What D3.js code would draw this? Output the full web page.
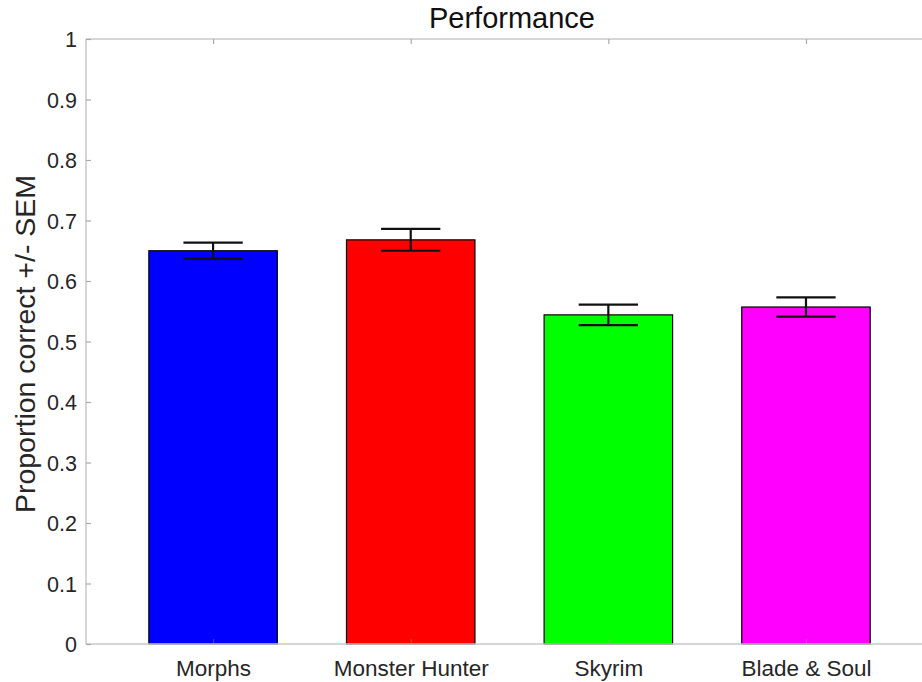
<!DOCTYPE html>
<html><head><meta charset="utf-8">
<script src="https://cdn.jsdelivr.net/npm/d3@7"></script>
<style>body{margin:0;background:#fff}svg{display:block}</style>
</head><body>
<svg id="c" width="922" height="682"></svg>
<script>
const categories = ["Morphs", "Monster Hunter", "Skyrim", "Blade & Soul"];
const values = [0.650, 0.668, 0.544, 0.557];
const sem = [0.0135, 0.018, 0.017, 0.016];
const colors = ["#0000ff", "#ff0000", "#00ff00", "#ff00ff"];
const yTicks = [0, 0.1, 0.2, 0.3, 0.4, 0.5, 0.6, 0.7, 0.8, 0.9, 1];
const titleText = "Performance";
const yLabel = "Proportion correct +/- SEM";

(function () {
const svg = d3.select("#c");
const font = "'Liberation Sans', Arial, Helvetica, sans-serif";
const axisCol = "#c8c8c8", textCol = "#262626";
const pL = 86, pR = 938, pT = 39, pB = 644;

const x = d3.scaleLinear().domain([0.357, 4.668]).range([pL, pR]);
const y = d3.scaleLinear().domain([0, 1]).range([pB, pT]);
const step = x(2) - x(1);
const barW = step * 0.65;
const capW = step * 0.3;

// bars
svg.selectAll("rect.bar").data(values).join("rect")
  .attr("class", "bar")
  .attr("x", (d, i) => x(i + 1) - barW / 2)
  .attr("y", d => y(d))
  .attr("width", barW)
  .attr("height", d => y(0) - y(d))
  .attr("fill", (d, i) => colors[i])
  .attr("stroke", "#000").attr("stroke-width", 1.2);

// axes lines
const g = svg.append("g");
g.append("line").attr("x1", pL).attr("x2", pR).attr("y1", pB).attr("y2", pB)
  .attr("stroke", axisCol).attr("stroke-width", 1.5);
g.append("line").attr("x1", pL).attr("x2", pR).attr("y1", pT).attr("y2", pT)
  .attr("stroke", axisCol).attr("stroke-width", 1.5);
g.append("line").attr("x1", pL).attr("x2", pL).attr("y1", pT).attr("y2", pB)
  .attr("stroke", axisCol).attr("stroke-width", 1.5);

// y ticks (inward) and labels
const yAxis = d3.axisLeft(y).tickValues(yTicks).tickSize(-5).tickPadding(9)
  .tickFormat(d => d3.format("~g")(d));
const ya = svg.append("g").attr("transform", `translate(${pL},0)`).call(yAxis);
ya.select(".domain").remove();
ya.selectAll(".tick line").attr("stroke", "#aaa").attr("stroke-width", 1.2);
ya.selectAll(".tick text").attr("fill", textCol).attr("font-family", font).attr("font-size", 21.5)
  .attr("dy", "0.36em");

// x ticks (inward, bottom and top) and labels
const xAxis = d3.axisBottom(x).tickValues(categories.map((c, i) => i + 1)).tickSize(-5).tickPadding(16)
  .tickFormat(d => categories[d - 1]);
const xa = svg.append("g").attr("transform", `translate(0,${pB})`).call(xAxis);
xa.select(".domain").remove();
xa.selectAll(".tick line").attr("stroke", "#aaa").attr("stroke-opacity", 0.35).attr("stroke-width", 1.2);
xa.selectAll(".tick text").attr("fill", textCol).attr("font-family", font).attr("font-size", 22.5);

const xTop = d3.axisTop(x).tickValues(categories.map((c, i) => i + 1)).tickSize(-5).tickFormat("");
const xt = svg.append("g").attr("transform", `translate(0,${pT})`).call(xTop);
xt.select(".domain").remove();
xt.selectAll(".tick line").attr("stroke", "#aaa").attr("stroke-width", 1.2);

// error bars
const eb = svg.append("g").attr("stroke", "#111").attr("stroke-width", 2.2);
values.forEach((v, i) => {
  const cx = x(i + 1);
  eb.append("line").attr("x1", cx).attr("x2", cx).attr("y1", y(v - sem[i])).attr("y2", y(v + sem[i]));
  eb.append("line").attr("x1", cx - capW / 2).attr("x2", cx + capW / 2).attr("y1", y(v + sem[i])).attr("y2", y(v + sem[i]));
  eb.append("line").attr("x1", cx - capW / 2).attr("x2", cx + capW / 2).attr("y1", y(v - sem[i])).attr("y2", y(v - sem[i]));
});

// title
svg.append("text").attr("x", (pL + pR) / 2).attr("y", 28).attr("text-anchor", "middle")
  .attr("font-family", font).attr("font-size", 29).attr("fill", "#111").text(titleText);

// y label
svg.append("text").attr("transform", `translate(35,344) rotate(-90)`)
  .attr("text-anchor", "middle").attr("font-family", font).attr("font-size", 28.5)
  .attr("fill", textCol).text(yLabel);
})();
</script>
</body></html>
